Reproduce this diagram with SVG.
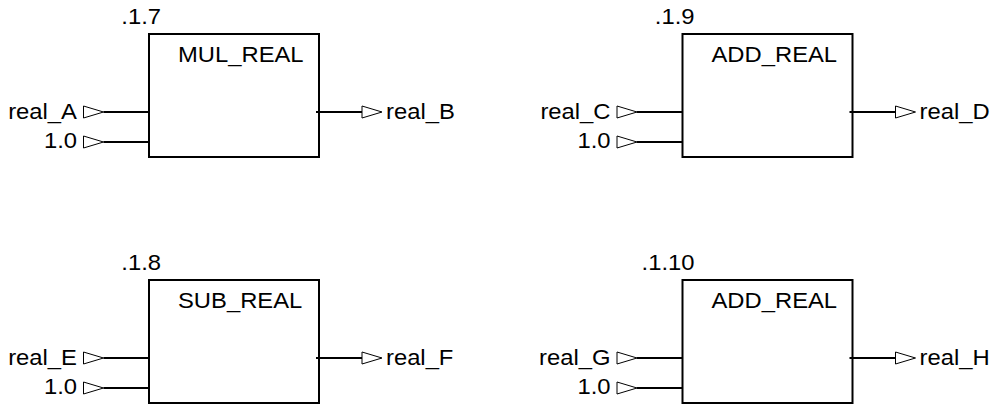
<svg xmlns="http://www.w3.org/2000/svg" xmlns:xlink="http://www.w3.org/1999/xlink" width="1001" height="405" viewBox="0 0 1001 405">
<style>
text{font-family:"Liberation Sans",Arial,sans-serif;font-size:22px;fill:#000}
.end{text-anchor:end}
.box{fill:#fff;stroke:#000;stroke-width:2}
.wire{stroke:#000;stroke-width:2;fill:none}
.pin{fill:#fff;stroke:#000;stroke-width:1}
</style>
<defs>
<path id="tri" class="pin" d="M0,-6 L20,0 L0,6 Z"/>
</defs>
<rect width="1001" height="405" fill="#fff"/>
<g id="n17">
<text class="end" x="161" y="24" textLength="39.7" lengthAdjust="spacingAndGlyphs">.1.7</text>
<rect class="box" x="149" y="34" width="170" height="123"/>
<text x="178" y="62" textLength="125.6" lengthAdjust="spacingAndGlyphs">MUL_REAL</text>
<text class="end" x="77" y="118.5" textLength="68.8" lengthAdjust="spacingAndGlyphs">real_A</text>
<text class="end" x="77" y="147.5" textLength="33.1" lengthAdjust="spacingAndGlyphs">1.0</text>
<text x="386" y="118.5" textLength="68.8" lengthAdjust="spacingAndGlyphs">real_B</text>
</g>
<g id="n19" transform="translate(533.5,0)">
<text class="end" x="161" y="24" textLength="39.7" lengthAdjust="spacingAndGlyphs">.1.9</text>
<rect class="box" x="149" y="34" width="170" height="123"/>
<text x="178" y="62" textLength="125.6" lengthAdjust="spacingAndGlyphs">ADD_REAL</text>
<text class="end" x="77" y="118.5" textLength="70.1" lengthAdjust="spacingAndGlyphs">real_C</text>
<text class="end" x="77" y="147.5" textLength="33.1" lengthAdjust="spacingAndGlyphs">1.0</text>
<text x="386" y="118.5" textLength="70.1" lengthAdjust="spacingAndGlyphs">real_D</text>
</g>
<g id="n18" transform="translate(0,246)">
<text class="end" x="161" y="24" textLength="39.7" lengthAdjust="spacingAndGlyphs">.1.8</text>
<rect class="box" x="149" y="34" width="170" height="123"/>
<text x="178" y="62" textLength="124.3" lengthAdjust="spacingAndGlyphs">SUB_REAL</text>
<text class="end" x="77" y="118.5" textLength="68.8" lengthAdjust="spacingAndGlyphs">real_E</text>
<text class="end" x="77" y="147.5" textLength="33.1" lengthAdjust="spacingAndGlyphs">1.0</text>
<text x="386" y="118.5" textLength="67.4" lengthAdjust="spacingAndGlyphs">real_F</text>
</g>
<g id="n110" transform="translate(533.5,246)">
<text class="end" x="161" y="24" textLength="52.9" lengthAdjust="spacingAndGlyphs">.1.10</text>
<rect class="box" x="149" y="34" width="170" height="123"/>
<text x="178" y="62" textLength="125.6" lengthAdjust="spacingAndGlyphs">ADD_REAL</text>
<text class="end" x="77" y="118.5" textLength="71.4" lengthAdjust="spacingAndGlyphs">real_G</text>
<text class="end" x="77" y="147.5" textLength="33.1" lengthAdjust="spacingAndGlyphs">1.0</text>
<text x="386" y="118.5" textLength="70.1" lengthAdjust="spacingAndGlyphs">real_H</text>
</g>
<g id="connectors">
<g id="c1">
<path class="wire" d="M103.5,112H149M103.5,142H149M316,112H362"/>
<use xlink:href="#tri" x="83.5" y="112"/><use xlink:href="#tri" x="83.5" y="142"/><use xlink:href="#tri" x="362" y="112"/>
</g>
<g id="c2" transform="translate(533.5,0)">
<path class="wire" d="M103.5,112H149M103.5,142H149M316,112H362"/>
<use xlink:href="#tri" x="83.5" y="112"/><use xlink:href="#tri" x="83.5" y="142"/><use xlink:href="#tri" x="362" y="112"/>
</g>
<g id="c3" transform="translate(0,246)">
<path class="wire" d="M103.5,112H149M103.5,142H149M316,112H362"/>
<use xlink:href="#tri" x="83.5" y="112"/><use xlink:href="#tri" x="83.5" y="142"/><use xlink:href="#tri" x="362" y="112"/>
</g>
<g id="c4" transform="translate(533.5,246)">
<path class="wire" d="M103.5,112H149M103.5,142H149M316,112H362"/>
<use xlink:href="#tri" x="83.5" y="112"/><use xlink:href="#tri" x="83.5" y="142"/><use xlink:href="#tri" x="362" y="112"/>
</g>
</g>
</svg>
